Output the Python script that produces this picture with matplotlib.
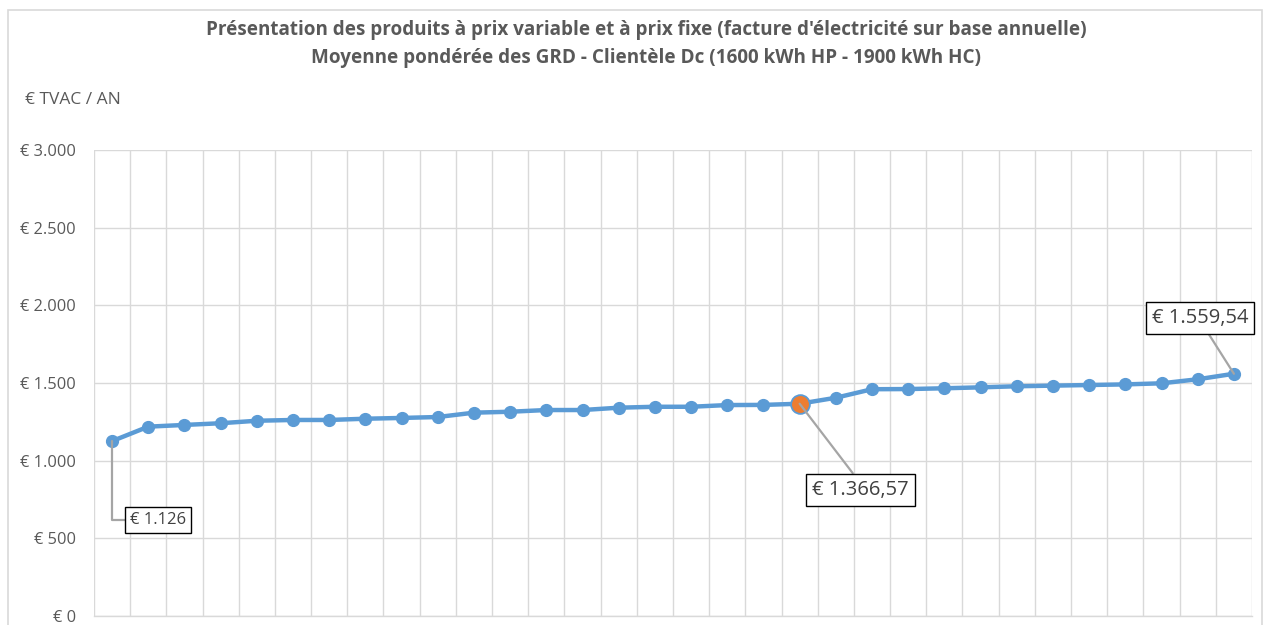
import matplotlib
matplotlib.use("Agg")
import matplotlib.pyplot as plt
from matplotlib.patches import Rectangle
from matplotlib.ticker import FixedLocator, FuncFormatter

plt.rcParams['font.family'] = ['Open Sans', 'DejaVu Sans']

title_lines = ["Présentation des produits à prix variable et à prix fixe (facture d'électricité sur base annuelle)",
               "Moyenne pondérée des GRD - Clientèle Dc (1600 kWh HP - 1900 kWh HC)"]
y_label = "€ TVAC / AN"
values = [1126, 1219, 1230, 1241, 1257, 1262, 1262, 1270, 1275, 1281,
          1309, 1315, 1326, 1326, 1341, 1347, 1347, 1358, 1359, 1366.57,
          1405, 1460, 1461, 1466, 1472, 1479, 1483, 1487, 1491, 1498,
          1524, 1559.54]
highlight_index = 19
y_ticks = [0, 500, 1000, 1500, 2000, 2500, 3000]
label_texts = {0: "€ 1.126", 19: "€ 1.366,57", 31: "€ 1.559,54"}

W, H = 1263, 625
fig = plt.figure(figsize=(W / 100, H / 100), dpi=100)
ax = fig.add_axes([94 / W, 9 / H, 1158 / W, 466 / H])

x = list(range(len(values)))
blue = '#5B9BD5'
orange = '#ED7D31'
grid = '#D9D9D9'
txt = '#595959'

ax.plot(x, values, color=blue, lw=3.2, marker='o', ms=8.5, mfc=blue, mec=blue, zorder=3)
ax.plot([x[highlight_index]], [values[highlight_index]], marker='o', ms=13.5,
        mfc=orange, mec=blue, mew=1.3, zorder=4, ls='none')

ax.set_xlim(-0.5, len(values) - 0.5)
ax.set_ylim(0, 3000)
ax.yaxis.set_major_locator(FixedLocator(y_ticks))
ax.yaxis.set_major_formatter(FuncFormatter(lambda v, p: "€ " + f"{int(v):,}".replace(",", ".")))
ax.xaxis.set_major_locator(FixedLocator([i - 0.5 for i in range(len(values) + 1)]))
ax.grid(True, color=grid, lw=1.0)
ax.set_axisbelow(True)
ax.tick_params(axis='both', length=0, labelsize=11.8, colors=txt, pad=13)
ax.set_xticklabels([])
for s in ['top', 'right', 'left']:
    ax.spines[s].set_visible(False)
ax.spines['bottom'].set_color(grid)
ax.spines['bottom'].set_linewidth(1.0)

# labels
offsets = {0: (46, -79), 19: (61, -86), 31: (-34, 56)}
relpos = {0: (0.0, 0.5), 19: (0.47, 1.0), 31: (0.55, 0.0)}
sizes = {0: 12, 19: 14.5, 31: 14.5}
for i, t in label_texts.items():
    cs = "angle,angleA=0,angleB=90,rad=0" if i == 0 else "arc3"
    ax.annotate(t, xy=(x[i], values[i]), xytext=offsets[i], textcoords='offset pixels',
                ha='center', va='center', fontsize=sizes[i], color='#404040',
                bbox=dict(boxstyle='square,pad=0.3', fc='white', ec='black', lw=1.0),
                arrowprops=dict(arrowstyle='-', color='#A5A5A5', lw=1.6, shrinkA=0, shrinkB=0,
                                relpos=relpos[i], connectionstyle=cs),
                zorder=5)

fig.text(646 / W, 1 - 30 / H, title_lines[0], ha='center', va='center', fontsize=13.6,
         fontweight='bold', color=txt)
fig.text(646 / W, 1 - 58 / H, title_lines[1], ha='center', va='center', fontsize=13.6,
         fontweight='bold', color=txt)
fig.text(25 / W, 1 - 100 / H, y_label, ha='left', va='center', fontsize=12.5, color=txt)

fig.patches.append(Rectangle((8 / W, -0.1), (1262 - 8) / W, 1.1 - 10.5 / H, transform=fig.transFigure,
                             fill=False, ec=grid, lw=1.2))

fig.savefig("out.png", dpi=100)
